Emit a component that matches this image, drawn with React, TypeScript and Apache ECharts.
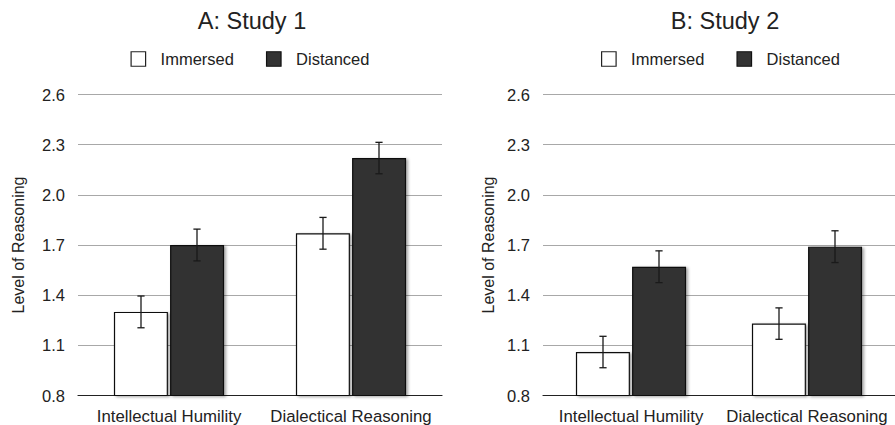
import React, { useEffect, useRef } from "react";
import * as echarts from "echarts";

const categories = ["Intellectual Humility", "Dialectical Reasoning"];
const seriesNames = ["Immersed", "Distanced"];
const panelTitles = ["A: Study 1", "B: Study 2"];

const study1Immersed = [1.3, 1.77];
const study1Distanced = [1.7, 2.22];
const study1ImmersedErr = [0.095, 0.095];
const study1DistancedErr = [0.095, 0.094];

const study2Immersed = [1.06, 1.23];
const study2Distanced = [1.57, 1.69];
const study2ImmersedErr = [0.094, 0.094];
const study2DistancedErr = [0.095, 0.095];

const yMin = 0.8;
const yMax = 2.6;
const yStep = 0.3;
const yAxisName = "Level of Reasoning";

const FONT = "'Liberation Sans', Arial, Helvetica, sans-serif";
const BAR_W = 54;
const BAR_GAP = 2;
const TEXT = "#222";

export default function App() {
  const ref = useRef<HTMLDivElement>(null);

  useEffect(() => {
    if (!ref.current) return;
    const chart = echarts.init(ref.current, null, { renderer: "svg" });

    const barStyle = (fill: string) => ({
      color: fill,
      borderColor: "#111",
      borderWidth: 1.2,
      shadowColor: "rgba(0,0,0,0.35)",
      shadowBlur: 3,
      shadowOffsetX: 2,
      shadowOffsetY: 1,
    });

    const errSeries = (
      name: string,
      vals: number[],
      errs: number[],
      side: number,
      axis: number
    ) => ({
      type: "custom",
      name: name + " error",
      xAxisIndex: axis,
      yAxisIndex: axis,
      z: 10,
      silent: true,
      encode: { x: 0, y: [1, 2] },
      data: vals.map((v, i) => [i, v - errs[i], v + errs[i]]),
      renderItem: (params: any, api: any) => {
        const idx = api.value(0);
        const lo = api.coord([idx, api.value(1)]);
        const hi = api.coord([idx, api.value(2)]);
        const cx = lo[0] + (side * (BAR_W + BAR_GAP)) / 2;
        const cap = 3.6;
        const st = { stroke: "#1a1a1a", lineWidth: 1.3 };
        return {
          type: "group",
          children: [
            { type: "line", shape: { x1: cx, y1: lo[1], x2: cx, y2: hi[1] }, style: st },
            { type: "line", shape: { x1: cx - cap, y1: hi[1], x2: cx + cap, y2: hi[1] }, style: st },
            { type: "line", shape: { x1: cx - cap, y1: lo[1], x2: cx + cap, y2: lo[1] }, style: st },
          ],
        };
      },
    });

    const grids = [
      { left: 78, top: 94.5, width: 364, height: 301 },
      { left: 543, top: 94.5, width: 364, height: 301 },
    ];

    const xAxes = [0, 1].map((g) => ({
      type: "category",
      gridIndex: g,
      data: categories,
      axisLine: { lineStyle: { color: "#222", width: 1.2 } },
      axisTick: { show: false },
      axisLabel: { interval: 0, fontSize: 16.8, color: TEXT, margin: 12, fontFamily: FONT },
    }));

    const yAxes = [0, 1].map((g) => ({
      type: "value",
      gridIndex: g,
      min: yMin,
      max: yMax,
      interval: yStep,
      axisLine: { show: false },
      axisTick: { show: false },
      splitLine: { lineStyle: { color: "#a8a8a8", width: 1 } },
      axisLabel: {
        fontSize: 16.5,
        color: TEXT,
        margin: 13,
        fontFamily: FONT,
        formatter: (v: number) => v.toFixed(1),
      },
      name: yAxisName,
      nameLocation: "middle",
      nameGap: g === 0 ? 52 : 47,
      nameTextStyle: { fontSize: 16, color: TEXT, fontFamily: FONT },
    }));

    const legendData = [
      { name: seriesNames[0], itemStyle: { color: "#fff", borderColor: "#222", borderWidth: 1.2 } },
      { name: seriesNames[1], itemStyle: { color: "#333", borderColor: "#111", borderWidth: 1.2 } },
    ];

    const legends = [130.5, 601].map((l) => ({
      data: legendData,
      left: l,
      top: 50.5,
      padding: 0,
      itemWidth: 14.5,
      itemHeight: 14.5,
      itemGap: 32,
      icon: "rect",
      textStyle: { fontSize: 16.5, color: TEXT, fontFamily: FONT, padding: [0, 0, 0, 10] },
    }));

    const titleGraphics = [252, 725].map((x, i) => ({
      type: "text",
      x,
      y: 20.5,
      silent: true,
      style: {
        text: panelTitles[i],
        textAlign: "center",
        textVerticalAlign: "middle",
        fontSize: 23.5,
        fontFamily: FONT,
        fill: TEXT,
      },
    }));

    const option: any = {
      animation: false,
      backgroundColor: "#fff",
      graphic: titleGraphics,
      legend: legends,
      grid: grids,
      xAxis: xAxes,
      yAxis: yAxes,
      series: [
        {
          type: "bar",
          name: seriesNames[0],
          xAxisIndex: 0,
          yAxisIndex: 0,
          data: study1Immersed,
          barWidth: BAR_W,
          itemStyle: barStyle("#ffffff"),
        },
        {
          type: "bar",
          name: seriesNames[1],
          xAxisIndex: 0,
          yAxisIndex: 0,
          data: study1Distanced,
          barWidth: BAR_W,
          barGap: "4%",
          itemStyle: barStyle("#333333"),
        },
        {
          type: "bar",
          name: seriesNames[0],
          xAxisIndex: 1,
          yAxisIndex: 1,
          data: study2Immersed,
          barWidth: BAR_W,
          itemStyle: barStyle("#ffffff"),
        },
        {
          type: "bar",
          name: seriesNames[1],
          xAxisIndex: 1,
          yAxisIndex: 1,
          data: study2Distanced,
          barWidth: BAR_W,
          barGap: "4%",
          itemStyle: barStyle("#333333"),
        },
        errSeries(seriesNames[0], study1Immersed, study1ImmersedErr, -1, 0),
        errSeries(seriesNames[1], study1Distanced, study1DistancedErr, 1, 0),
        errSeries(seriesNames[0], study2Immersed, study2ImmersedErr, -1, 1),
        errSeries(seriesNames[1], study2Distanced, study2DistancedErr, 1, 1),
      ],
    };

    chart.setOption(option);
    return () => chart.dispose();
  }, []);

  return (
    <div
      ref={ref}
      style={{ position: "fixed", left: 0, top: 0, width: 895, height: 425, overflow: "hidden", background: "#fff" }}
    />
  );
}
